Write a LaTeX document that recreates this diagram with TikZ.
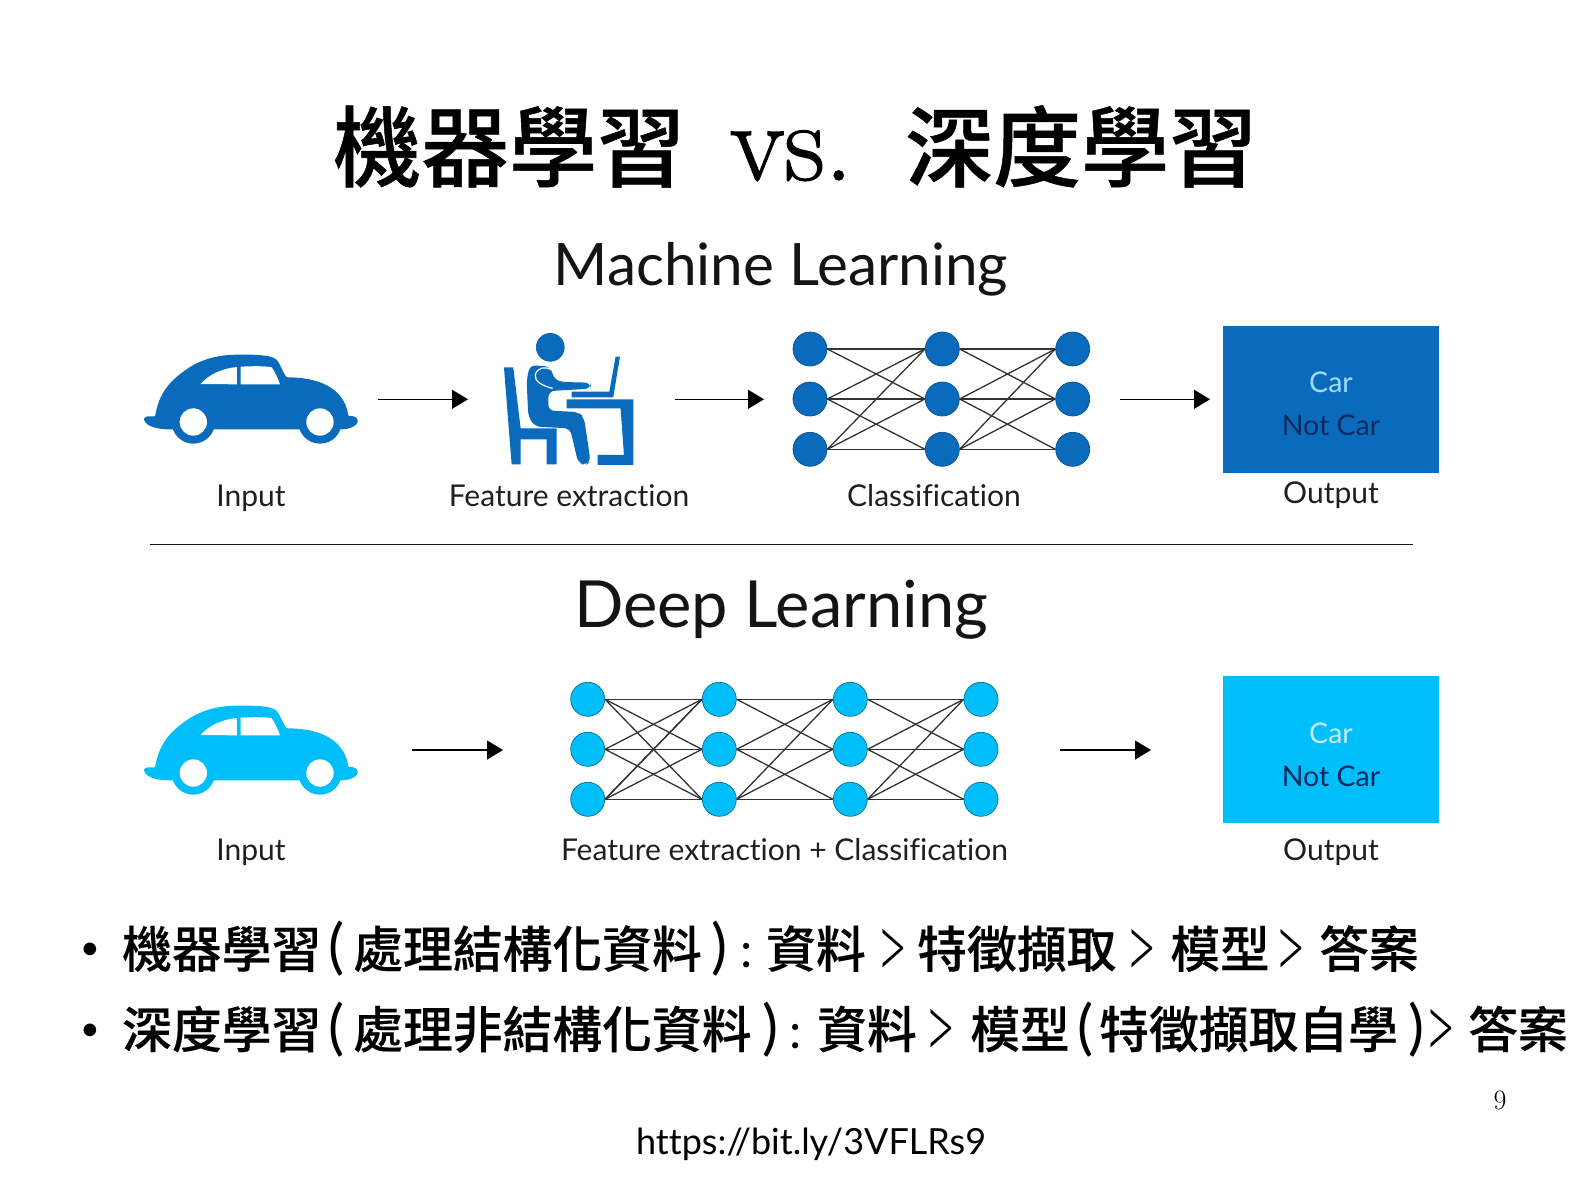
\documentclass[tikz,border=0pt]{standalone}
\usepackage{fontspec}
\usetikzlibrary{arrows.meta}
\newfontfamily\cjk[FakeBold=0.25]{Noto Sans CJK TC Medium}
\newfontfamily\cjkt[FakeBold=0.6]{Noto Sans CJK TC Medium}
\newfontfamily\lato[Ligatures=NoCommon]{Lato}
\newfontfamily\latol{Lato Light}
\newfontfamily\vsfont[FakeBold=1.2]{Latin Modern Roman}
\definecolor{mlblue}{HTML}{0A6BBD}
\definecolor{dlblue}{HTML}{00BEFA}
\definecolor{navy}{HTML}{0A2A5E}
\definecolor{skyt}{HTML}{9FDCFB}
\newcommand{\fz}[1]{\fontsize{#1}{#1}\selectfont}
\newcommand{\atx}[2]{\rlap{\kern#1pt #2}}
\newcommand{\carshape}[3]{%
\begin{scope}[shift={(#1,#2)},x=0.3333pt,y=-0.3333pt]
\fill[#3,rounded corners=1pt] (42,298) .. controls (45,288) and (60,288) .. (75,290)
 .. controls (85,235) and (105,195) .. (160,155)
 .. controls (200,125) and (250,105) .. (320,104)
 .. controls (370,103) and (420,105) .. (438,118)
 .. controls (450,130) and (460,160) .. (470,172)
 .. controls (530,172) and (590,185) .. (625,222)
 .. controls (645,245) and (652,265) .. (655,288)
 .. controls (665,288) and (680,288) .. (684,303)
 .. controls (680,320) and (655,328) .. (632,328)
 -- (120,328) .. controls (90,328) and (50,322) .. (42,298) -- cycle;
\fill[#3] (190,306) circle[radius=65] (570,306) circle[radius=65];
\fill[white] (190,306) circle[radius=41] (570,306) circle[radius=41];
\fill[white] (212,192) .. controls (235,165) and (275,145) .. (321,141) -- (321,193) -- cycle;
\fill[white] (332,140) .. controls (370,138) and (410,138) .. (425,142) .. controls (435,155) and (445,178) .. (450,193) -- (332,193) -- cycle;
\end{scope}}
\tikzset{
  titletext/.style={anchor=base west,inner sep=0pt,font=\cjkt\fz{88}},
  bullettext/.style={anchor=base west,inner sep=0pt,font=\cjk\fz{49.8}},
  headingA/.style={inner sep=0pt,anchor=base,font=\lato\fz{58.5},text=black!92},
  headingB/.style={inner sep=0pt,anchor=base,font=\lato\fz{65},text=black!92},
  caption/.style={inner sep=0pt,anchor=base,font=\lato\fz{30},text=black!88},
  boxtext/.style={inner sep=0pt,font=\lato\fz{28.5}},
  neuronA/.style={circle,fill=mlblue,draw=mlblue!75!black,line width=0.7pt,minimum size=34pt,inner sep=0pt},
  neuronB/.style={circle,fill=dlblue,draw=dlblue!60!black,line width=0.7pt,minimum size=34pt,inner sep=0pt},
  nnedge/.style={draw=black!80,line width=1.3pt},
  flow/.style={draw=black,line width=1.2pt,-{Triangle[length=16pt,width=19pt]}},
  outbox/.style={minimum width=216pt,minimum height=147pt,inner sep=0pt},
}
\begin{document}
\begin{tikzpicture}[x=1pt,y=-1pt]
\useasboundingbox[fill=white] (0,0) rectangle (1587,1191);

% title
\node[titletext] (title) at (330,180) {\hbox to 930pt{%
  \atx{3}{機器學習}\atx{400}{\vsfont\fz{112}vs.}\atx{575}{深度學習}\hss}};

% headings
\node[headingA] (mlhead) at (781,285) {Machine Learning};
\node[headingB] (dlhead) at (781,627) {Deep Learning};

% car, row 1
\carshape{130}{320}{mlblue}
% person at desk
\begin{scope}[shift={(130,320)},x=0.3333pt,y=-0.3333pt]
\fill[mlblue] (1261,82) circle[radius=43];
\fill[mlblue] (1122,142) -- (1150,142) -- (1172,325) -- (1280,325) -- (1280,433) -- (1250,433) -- (1250,358) -- (1172,358) -- (1172,433) -- (1145,433) -- cycle;
\fill[mlblue] (1310,238) -- (1510,238) -- (1510,435) -- (1403,435) -- (1403,405) -- (1482,405) -- (1472,265) -- (1310,265) -- cycle;
\fill[mlblue] (1325,215) -- (1438,215) -- (1457,110) -- (1470,110) -- (1450,232) -- (1325,232) -- cycle;
\fill[mlblue,rounded corners=6pt] (1200,135) -- (1262,140) -- (1272,178) -- (1295,186) -- (1382,188) -- (1382,206) -- (1315,210) -- (1272,212) -- (1255,215) -- (1255,272) -- (1345,276) -- (1362,292) -- (1382,425) -- (1368,435) -- (1345,430) -- (1320,325) -- (1215,320) -- (1195,290) -- (1190,180) -- cycle;
\draw[white,line width=1.2pt] (1265,150) .. controls (1245,138) and (1222,142) .. (1216,165) .. controls (1212,185) and (1240,198) .. (1268,205);
\end{scope}

% network, row 1
\foreach \l/\x in {1/810,2/942.3,3/1072.7}
  \foreach \r/\y in {1/349,2/399,3/449.3}
    \node[neuronA] (m\l\r) at (\x,\y) {};
\foreach \a/\b in {1/2,2/3}
  \foreach \i/\j in {1/1,1/2,2/1,2/2,2/3,3/1,3/2,3/3}
    \draw[nnedge] (m\a\i.east) -- (m\b\j.west);

% output box, row 1
\node[outbox,fill=mlblue] (mlout) at (1331.3,399.3) {};
\node[boxtext,text=skyt] (mlcar) at (1331,382) {Car};
\node[boxtext,text=navy] (mlnot) at (1331,425) {Not Car};

% arrows, row 1
\coordinate (a1s) at (378,399.3); \coordinate (a1e) at (468,399.3);
\coordinate (a2s) at (675,399.3); \coordinate (a2e) at (764,399.3);
\coordinate (a3s) at (1120,399.3); \coordinate (a3e) at (1210,399.3);
\draw[flow] (a1s) -- (a1e);
\draw[flow] (a2s) -- (a2e);
\draw[flow] (a3s) -- (a3e);

% captions, row 1
\node[caption] (c1) at (251,506) {Input};
\node[caption] (c2) at (569,506) {Feature extraction};
\node[caption] (c3) at (934,506) {Classification};
\node[caption] (c4) at (1331,503) {Output};

% divider
\coordinate (dva) at (150,544.5); \coordinate (dvb) at (1413,544.5);
\draw[black!90,line width=1.8pt] (dva) -- (dvb);

% row 2
\carshape{130}{671}{dlblue}
\foreach \l/\x in {1/587.7,2/719.3,3/850.3,4/981}
  \foreach \r/\y in {1/699.3,2/749.3,3/799.3}
    \node[neuronB] (d\l\r) at (\x,\y) {};
\foreach \a/\b in {1/2,2/3,3/4}
  \foreach \i/\j in {1/1,1/2,2/1,2/2,2/3,3/1,3/2,3/3}
    \draw[nnedge] (d\a\i.east) -- (d\b\j.west);
\draw[nnedge] (d11.east) -- (d23.west);
\draw[nnedge] (d13.east) -- (d21.west);

\node[outbox,fill=dlblue] (dlout) at (1331.3,749.5) {};
\node[boxtext,text=skyt!60!white] (dlcar) at (1331,733) {Car};
\node[boxtext,text=navy] (dlnot) at (1331,776) {Not Car};

\coordinate (b1s) at (412,750); \coordinate (b1e) at (503,750);
\coordinate (b2s) at (1060,750); \coordinate (b2e) at (1151,750);
\draw[flow] (b1s) -- (b1e);
\draw[flow] (b2s) -- (b2e);

\node[caption] (e1) at (251,860) {Input};
\node[caption] (e2) at (784.5,860) {Feature extraction + Classification};
\node[caption] (e4) at (1331,860) {Output};

% bullets
\newcommand{\lt}[1]{{\lato\fz{60}#1}}
\newcommand{\gt}{{\latol\fz{95}\raisebox{-12.5pt}{\scalebox{0.58}[1]{>}}}}
\newcommand{\bl}{{\lato\fz{34}\raisebox{7.7pt}{•}}}
\node[bullettext] (line1) at (80,967.6) {\hbox to 1340pt{%
  \atx{0}{\bl}\atx{42}{機器學習}\atx{248}{\lt{(}}\atx{273}{處理結構化資料}%
  \atx{631}{\lt{)}}\atx{660}{{\lato\fz{49}:}}\atx{686}{資料}\atx{796}{\gt}\atx{837}{特徵擷取}%
  \atx{1045}{\gt}\atx{1090}{模型}\atx{1194}{\gt}\atx{1239}{答案}\hss}};
\node[bullettext] (line2) at (80,1048) {\hbox to 1490pt{%
  \atx{0}{\bl}\atx{42}{深度學習}\atx{248}{\lt{(}}\atx{273}{處理非結構化資料}%
  \atx{682}{\lt{)}}\atx{709}{{\lato\fz{49}:}}\atx{737}{資料}\atx{844}{\gt}\atx{890}{模型}%
  \atx{997}{\lt{(}}\atx{1019}{特徵擷取自學}\atx{1328}{\lt{)}}\atx{1344}{\gt}\atx{1388}{答案}\hss}};

\node[inner sep=0pt,font=\lato\fz{36}] (url) at (811,1144) {https://bit.ly/3VFLRs9};
\node[inner sep=0pt,font=\fz{28}] (pgno) at (1500,1100) {9};
\end{tikzpicture}
\end{document}
